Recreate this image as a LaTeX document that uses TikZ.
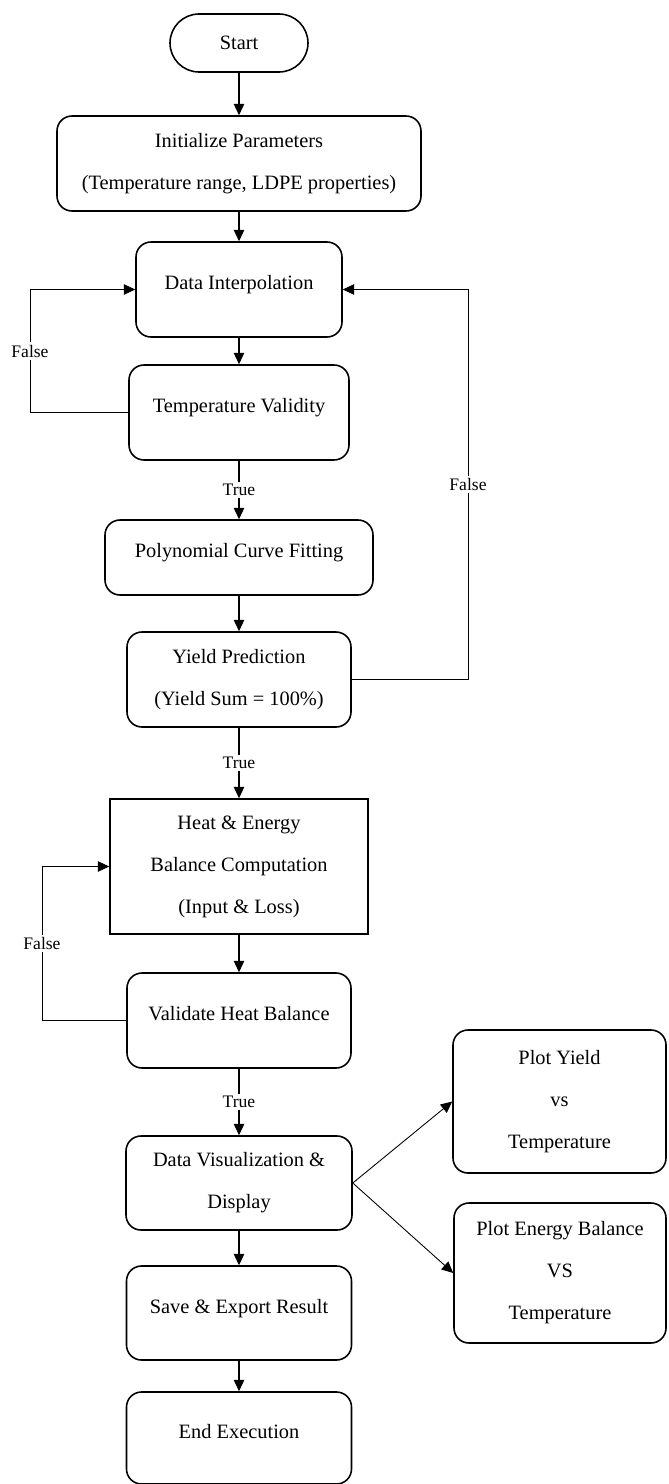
\documentclass[tikz,border=0pt]{standalone}
\usepackage{fontspec}
\setmainfont{Liberation Serif}
\usetikzlibrary{arrows.meta,calc}

\begin{document}
\begin{tikzpicture}[>={Triangle[length=6.5pt,width=6pt]},
  font=\fontsize{11.6pt}{23.9pt}\selectfont,
  box/.style 2 args={draw,line width=0.9pt,rounded corners=0.3cm,inner sep=0pt,minimum width=#1,minimum height=#2},
  one/.style={text height=8pt,text depth=8pt},
  many/.style={align=center},
  flow/.style={->,line width=0.6pt},
  back/.style={->,line width=0.45pt},
  lbl/.style={fill=white,inner sep=1.5pt,font=\fontsize{10pt}{12pt}\selectfont}]
\useasboundingbox (0,0) rectangle (13.36,-29.68);
% main column
\node[box={2.76cm}{1.16cm},rounded corners=0.58cm] (start) at (4.78,-0.86) {Start};
\node[box={7.28cm}{1.9cm},many] (init) at (4.78,-3.27) {Initialize Parameters\\(Temperature range, LDPE properties)};
\node[box={4.12cm}{1.9cm},one] (interp) at (4.78,-5.79) {Data Interpolation};
\node[box={4.4cm}{1.9cm},one] (tvalid) at (4.78,-8.25) {Temperature Validity};
\node[box={5.36cm}{1.5cm},one] (poly) at (4.78,-11.15) {Polynomial Curve Fitting};
\node[box={4.48cm}{1.9cm},many] (yield) at (4.78,-13.59) {Yield Prediction\\(Yield Sum = 100\%)};
\node[box={5.16cm}{2.7cm},many,sharp corners] (heat) at (4.78,-17.33) {Heat \& Energy\\Balance Computation\\(Input \& Loss)};
\node[box={4.48cm}{1.9cm},one] (hvalid) at (4.78,-20.41) {Validate Heat Balance};
\node[box={4.52cm}{1.88cm},many] (vis) at (4.78,-23.66) {Data Visualization \&\\Display};
\node[box={4.5cm}{1.88cm},one] (save) at (4.78,-26.26) {Save \& Export Result};
\node[box={4.5cm}{1.84cm},one] (endx) at (4.78,-28.76) {End Execution};
% plots
\node[box={4.26cm}{2.86cm},many] (ploty) at (11.19,-22.03) {Plot Yield\\vs\\Temperature};
\node[box={4.24cm}{2.8cm},many] (plote) at (11.2,-25.46) {Plot Energy Balance\\VS\\Temperature};
\draw[flow] (start) -- (init);
\draw[flow] (init) -- (interp);
\draw[flow] (interp) -- (tvalid);
\draw[flow] (tvalid) -- node[lbl]{True} (poly);
\draw[flow] (poly) -- (yield);
\draw[flow] (yield) -- node[lbl]{True} (heat);
\draw[flow] (heat) -- (hvalid);
\draw[flow] (hvalid) -- node[lbl]{True} (vis);
\draw[flow] (vis) -- (save);
\draw[flow] (save) -- (endx);
\draw[flow,line width=0.5pt] (vis.east) -- (ploty.west);
\draw[flow,line width=0.5pt] (vis.east) -- (plote.west);
% loops back
\coordinate (fa) at (0.6,0);
\coordinate (fb) at (9.36,0);
\coordinate (fc) at (0.84,0);
\draw[back] (tvalid.west) -- (tvalid.west -| fa) -- node[lbl]{False} (interp.west -| fa) -- (interp.west);
\draw[back] (yield.east) -- (yield.east -| fb) -- node[lbl]{False} (interp.east -| fb) -- (interp.east);
\draw[back] (hvalid.west) -- (hvalid.west -| fc) -- node[lbl]{False} (heat.west -| fc) -- (heat.west);
\end{tikzpicture}
\end{document}
